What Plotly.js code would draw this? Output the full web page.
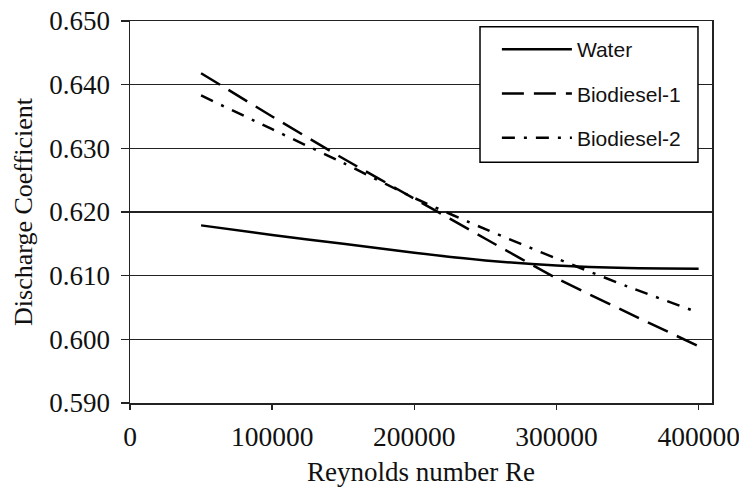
<!DOCTYPE html>
<html>
<head>
<meta charset="utf-8">
<script src="https://cdn.plot.ly/plotly-3.0.1.min.js"></script>
<style>html,body{margin:0;padding:0;background:#fff;}#chart{width:739px;height:487px;}</style>
</head>
<body>
<div id="chart"></div>
<script>
const reynolds = [50000, 100000, 150000, 200000, 250000, 300000, 350000, 400000];
const water = [0.6179, 0.6164, 0.6150, 0.6136, 0.6124, 0.6116, 0.6112, 0.6111];
const biodiesel1 = [0.6418, 0.6350, 0.6284, 0.6221, 0.6158, 0.6096, 0.6042, 0.5989];
const biodiesel2 = [0.6383, 0.6330, 0.6277, 0.6222, 0.6173, 0.6127, 0.6083, 0.6042];
const seriesNames = ["Water", "Biodiesel-1", "Biodiesel-2"];
const xTicks = [0, 100000, 200000, 300000, 400000];
const yTicks = [0.590, 0.600, 0.610, 0.620, 0.630, 0.640, 0.650];

const traces = [
  {x: reynolds, y: water, name: seriesNames[0], mode: "lines", legendgroup: "a",
   line: {color: "#000", width: 2.5, shape: "spline", smoothing: 0.8}},
  {x: reynolds, y: biodiesel1, name: seriesNames[1], mode: "lines", legendgroup: "b",
   line: {color: "#000", width: 2.5, dash: "22px,10px", shape: "spline", smoothing: 0.6}},
  {x: reynolds, y: biodiesel2, name: seriesNames[2], mode: "lines", legendgroup: "c",
   line: {color: "#000", width: 2.5, dash: "13px,9px,3px,9px", shape: "spline", smoothing: 0.6}}
];

const serif = "'Liberation Serif', 'Times New Roman', serif";
const layout = {
  width: 739, height: 487,
  margin: {l: 130, r: 27, t: 21, b: 84},
  paper_bgcolor: "#fff", plot_bgcolor: "#fff",
  showlegend: true,
  legend: {x: 0.6304, y: 0.979, xanchor: "left", yanchor: "top",
    bgcolor: "rgba(0,0,0,0)", borderwidth: 0,
    font: {family: "'Liberation Sans', Arial, sans-serif", size: 21, color: "#111"},
    tracegroupgap: 14, itemwidth: 70},
  shapes: [{type: "rect", xref: "paper", yref: "paper", layer: "above",
    x0: 0.6014, x1: 0.9759, y0: 0.630, y1: 0.985,
    fillcolor: "#fff", line: {color: "#000", width: 1.5}}],
  xaxis: {range: [0, 409400], tickmode: "array", tickvals: xTicks,
    ticktext: xTicks.map(v => String(v)),
    showgrid: false, zeroline: false, showline: true, linecolor: "#222", linewidth: 1.5,
    mirror: true, ticks: "outside", ticklen: 5, tickwidth: 1.5, tickcolor: "#222",
    ticklabelstandoff: 3, ticklabeloverflow: "allow",
    tickfont: {family: serif, size: 27.5, color: "#111"},
    title: {text: "Reynolds number Re", font: {family: serif, size: 27, color: "#111"}, standoff: 19}},
  yaxis: {range: [0.590, 0.650], tickmode: "array", tickvals: yTicks,
    ticktext: yTicks.map(v => v.toFixed(3)),
    showgrid: true, gridcolor: "#222", gridwidth: 1.5, zeroline: false,
    showline: true, linecolor: "#222", linewidth: 1.5, mirror: true,
    ticks: "outside", ticklen: 8, tickwidth: 1.5, tickcolor: "#222",
    ticklabelstandoff: 5,
    tickfont: {family: serif, size: 27, color: "#111"},
    title: {text: "Discharge Coefficient", font: {family: serif, size: 26, color: "#111"}, standoff: 9}}
};

Plotly.newPlot("chart", traces, layout, {displayModeBar: false, staticPlot: true});
</script>
</body>
</html>
